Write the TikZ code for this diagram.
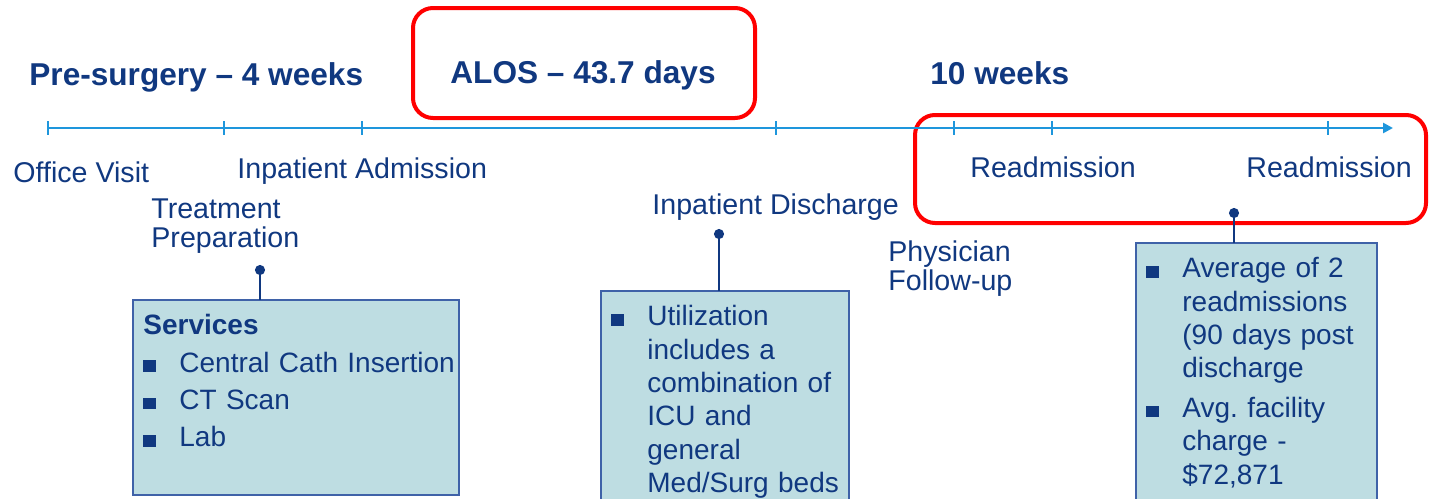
\documentclass[tikz,border=0pt]{standalone}
\usepackage{fontspec}
\setmainfont{Liberation Sans}
\usetikzlibrary{positioning,arrows.meta}
\definecolor{Navy}{HTML}{103880}
\definecolor{Sky}{HTML}{1E96DC}
\definecolor{Flag}{HTML}{FF0000}
\definecolor{PaleCyan}{HTML}{BEDDE2}
\definecolor{Frame}{HTML}{3F62A8}
\newcommand{\bul}{\hspace*{5pt}\makebox[18pt][l]{\rule{6.3pt}{5.8pt}}}
\newcommand{\ind}{\hspace*{23pt}}

\begin{document}
\begin{tikzpicture}[x=0.5pt,y=-0.5pt,
        title/.style={anchor=base west,inner sep=0pt,text=Navy,font=\fontsize{15.8}{19}\selectfont\bfseries},
        label/.style={anchor=base west,inner sep=0pt,text=Navy,align=left,font=\fontsize{14.3}{14.2}\selectfont},
        infotext/.style={anchor=north west,inner xsep=0pt,inner ysep=7pt,text width=#1,align=left,text=Navy,
                    font=\fontsize{14}{16.7}\selectfont},
        infobox/.style={draw=Frame,line width=.8pt,fill=PaleCyan},
        flag/.style={draw=Flag,line width=2pt,rounded corners=10pt},
        timeline/.style={Sky,line width=1.4pt},
        tick/.style={Sky,line width=1pt},
        stem/.style={Navy,line width=1pt,{Circle[length=5pt]}-}
      ]
        \useasboundingbox (0,0) rectangle (1438,498);
        % highlight frames
        \draw[flag] (413,8) rectangle (755,118);
        \draw[flag] (915,115) rectangle (1426,223);
        % time axis
        \coordinate (tstart) at (48,128);
        \coordinate (tend) at (1393,128);
        \draw[timeline,-{Triangle[length=5pt,width=5pt]}] (tstart) -- (tend);
        \foreach \x in {48,224,362,776,954,1052,1328}
          \draw[tick] (\x,121) -- (\x,135);
        % headings
        \node[title] (pre) at (29,85) {Pre-surgery -- 4 weeks};
        \node[title] (alos) at (450,83) {ALOS -- 43.7 days};
        \node[title] (tenwk) at (930,84) {10 weeks};
        % events
        \node[label] (office) at (13,182) {Office Visit};
        \node[label] (admit) at (237,178) {Inpatient Admission};
        \node[label] (treat) at (151,247) {Treatment\\Preparation};
        \node[label] (discharge) at (652,214) {Inpatient Discharge};
        \node[label] (physician) at (888,290) {Physician\\Follow-up};
        \node[label] (readmitA) at (970,177) {Readmission};
        \node[label] (readmitB) at (1246,177) {Readmission};
        % detail boxes
        \draw[infobox] (133,300) rectangle (459,495);
        \draw[infobox] (601,291) rectangle (849,530);
        \draw[infobox] (1136,243) rectangle (1377,530);
        \node[infotext=163pt] (svc) at (133,300) {\hspace*{5pt}\textbf{Services}\\[2pt]
          \bul\mbox{Central Cath Insertion}\\[2pt]
          \bul CT Scan\\[2pt]
          \bul Lab};
        \node[infotext=124pt] (util) at (601,291) {\bul Utilization\\
          \ind includes a\\ \ind combination of\\ \ind ICU and\\ \ind general\\ \ind Med/Surg beds};
        \node[infotext=120pt] (readm) at (1136,243) {\bul Average of 2\\ \ind readmissions\\
          \ind (90 days post\\ \ind discharge\\[3pt]
          \bul Avg.\ facility\\ \ind charge -\\ \ind \$72,871};
        % pins
        \coordinate (svcpin) at (260,265);
        \coordinate (utilpin) at (719,229);
        \coordinate (readmpin) at (1234,208);
        \draw[stem] (svcpin) -- (svcpin |- svc.north);
        \draw[stem] (utilpin) -- (utilpin |- util.north);
        \draw[stem] (readmpin) -- (readmpin |- readm.north);
      \end{tikzpicture}
\end{document}
